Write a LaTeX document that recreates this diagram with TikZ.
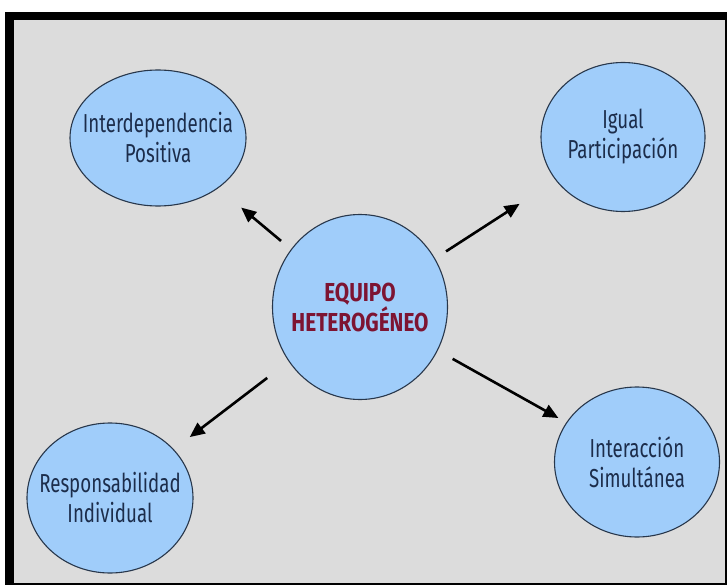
\documentclass[tikz,border=0pt]{standalone}
\usepackage{fontspec}
\setmainfont{Fira Sans}[FakeStretch=0.72]
\usetikzlibrary{shapes.geometric,arrows.meta}

\definecolor{panelgray}{RGB}{220,220,220}
\definecolor{bubblefill}{RGB}{160,205,250}
\definecolor{bubbleline}{RGB}{40,55,75}
\definecolor{labelnavy}{RGB}{28,45,75}
\definecolor{titlered}{RGB}{125,20,50}

\tikzset{
  bubble/.style={ellipse,draw=bubbleline,line width=1.1pt,fill=bubblefill,inner xsep=-20pt,inner ysep=0pt,
    align=center,text=labelnavy,font=\fontsize{26}{30}\selectfont},
  pointer/.style={line width=2.6pt,-{Triangle[length=15pt,width=13pt]}}
}

\begin{document}
\begin{tikzpicture}[x=1pt,y=1pt,yscale=-1,xscale=1]
\useasboundingbox (0,0) rectangle (727,585);

%Shape: Frame
\fill[black] (5,12) rectangle (727,585);
\fill[panelgray] (14,20) rectangle (725,583);

%Shape: Ellipse [center]
\node[bubble,minimum width=175,minimum height=185,text=titlered,
  font=\fontsize{26}{30}\selectfont\bfseries\addfontfeature{FakeStretch=0.8}] (equipo) at (360,307) {EQUIPO\\HETEROGÉNEO};
%Shape: Ellipse [top left]
\node[bubble,minimum width=176,minimum height=136] (interdep) at (158,138) {Interdependencia\\Positiva};
%Shape: Ellipse [top right]
\node[bubble,minimum width=164,minimum height=149] (igual) at (623,137) {Igual\\Participación};
%Shape: Ellipse [bottom left]
\node[bubble,minimum width=166,minimum height=150] (respons) at (110,498) {Responsabilidad\\Individual};
%Shape: Ellipse [bottom right]
\node[bubble,minimum width=165,minimum height=150] (interac) at (637,462) {Interacción\\Simultánea};

%Arrows
\draw[pointer,shorten <=13pt,shorten >=30pt] (equipo) -- (interdep);
\draw[pointer,shorten <=13pt,shorten >=43pt] (equipo) -- (igual);
\draw[pointer,shorten <=27pt,shorten >=20pt] (equipo) -- (respons);
\draw[pointer,shorten <=17pt,shorten >=9pt] (equipo) -- (interac);

\end{tikzpicture}
\end{document}
